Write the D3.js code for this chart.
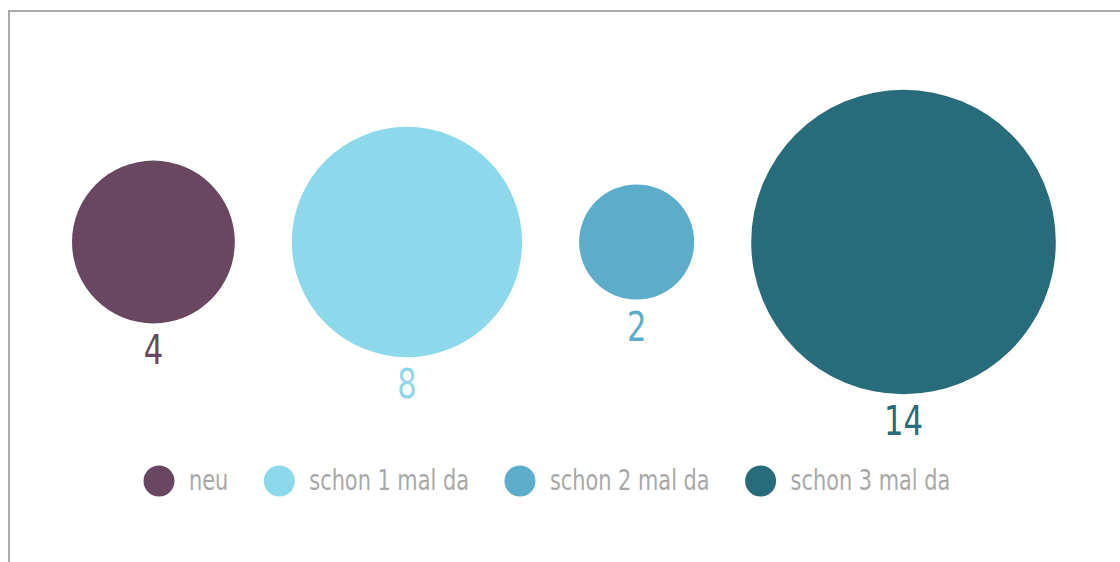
<!DOCTYPE html>
<html>
<head>
<meta charset="utf-8">
<script src="https://cdn.jsdelivr.net/npm/d3@7"></script>
<style>
  html, body { margin: 0; padding: 0; background: #fff; }
  svg { display: block; }
  text { font-family: "DejaVu Sans Condensed", "DejaVu Sans", sans-serif; }
</style>
</head>
<body>
<div class="chart-section"></div>
<script>
const categories = ["neu", "schon 1 mal da", "schon 2 mal da", "schon 3 mal da"];
const values = [4, 8, 2, 14];
const colors = ["#6a4760", "#8dd8ea", "#5badc9", "#286b7a"];

const width = 1120;
const height = 562;
// narrow look, no condensed font installed
const squeeze = 0.83;
const legendSqueeze = 0.8;

const svg = d3
  .select(".chart-section")
  .append("svg")
  .attr("width", width)
  .attr("height", height);

// frame around the chart, runs off the right and bottom edge
svg
  .append("rect")
  .attr("x", 9)
  .attr("y", 11)
  .attr("width", width + 20)
  .attr("height", height + 20)
  .attr("fill", "none")
  .attr("stroke", "#aaa")
  .attr("stroke-width", 2);

const rScale = d3.scaleSqrt().domain([0, 14]).range([0, 152.3]);
const colorScale = d3.scaleOrdinal(categories, colors);

const cy = 242;
const gap = 57;
let left = 72;
const data = categories.map((c, i) => {
  const r = rScale(values[i]);
  const d = { name: c, value: values[i], r, cx: left + r };
  left += 2 * r + gap;
  return d;
});

const bubble = svg
  .selectAll("g.bubble")
  .data(data)
  .join("g")
  .attr("class", "bubble")
  .attr("transform", (d) => `translate(${d.cx},${cy})`);

bubble
  .append("circle")
  .attr("r", (d) => d.r)
  .attr("fill", (d) => colorScale(d.name));

bubble
  .append("text")
  .attr("text-anchor", "middle")
  .attr("transform", (d) => `translate(0,${d.r + 41}) scale(${squeeze},1)`)
  .attr("font-size", 41)
  .attr("fill", (d) => colorScale(d.name))
  .text((d) => d.value);

// LEGEND
const legend = svg.append("g").attr("transform", "translate(159, 481)");
let lx = 0;
categories.forEach((c) => {
  const item = legend.append("g").attr("transform", `translate(${lx},0)`);
  item.append("circle").attr("r", 15.5).attr("fill", colorScale(c));
  const t = item
    .append("text")
    .attr("transform", `translate(30,9) scale(${legendSqueeze},1)`)
    .attr("font-size", 29)
    .attr("fill", "#a8a8a8")
    .text(c);
  lx += 30 + t.node().getComputedTextLength() * legendSqueeze + 35.5 + 15.5;
});
</script>
</body>
</html>
